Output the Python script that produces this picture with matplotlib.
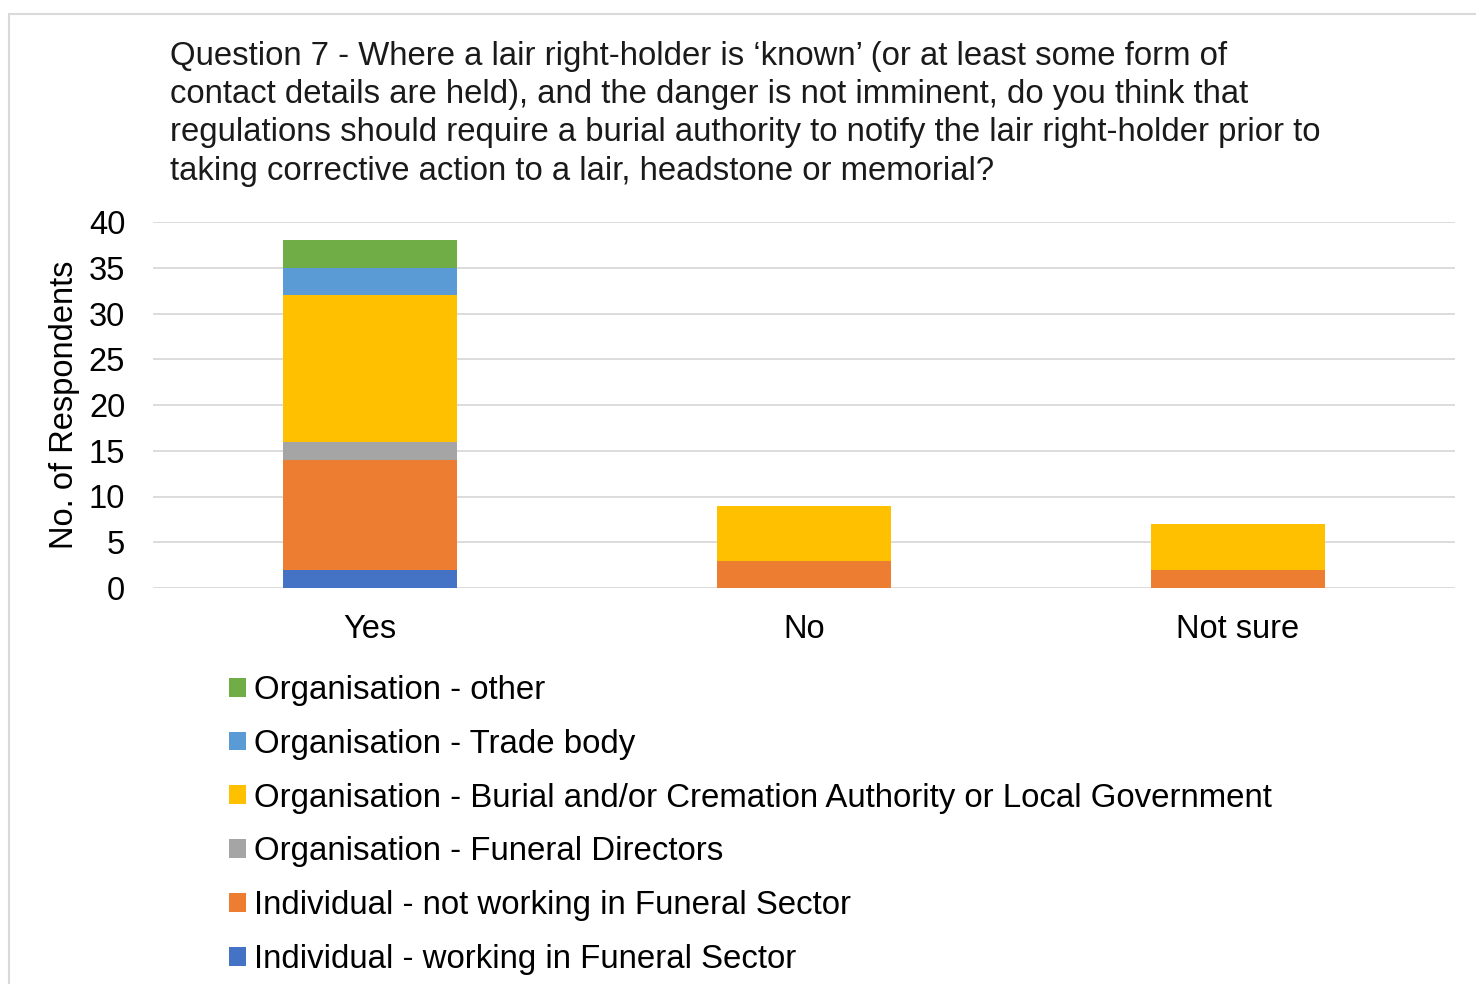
import matplotlib.pyplot as plt
from matplotlib.patches import Rectangle, Patch
import numpy as np

plt.rcParams['font.family'] = ['Liberation Sans', 'DejaVu Sans']

answers = ['Yes', 'No', 'Not sure']
groups = ['Individual - working in Funeral Sector',
          'Individual - not working in Funeral Sector',
          'Organisation - Funeral Directors',
          'Organisation - Burial and/or Cremation Authority or Local Government',
          'Organisation - Trade body',
          'Organisation - other']
indiv_working = [2, 0, 0]
indiv_not_working = [12, 3, 2]
funeral_directors = [2, 0, 0]
burial_authority = [16, 6, 5]
trade_body = [3, 0, 0]
org_other = [3, 0, 0]
colors = ['#4472C4', '#ED7D31', '#A5A5A5', '#FFC000', '#5B9BD5', '#70AD47']

title = ("Question 7 - Where a lair right-holder is \u2018known\u2019 (or at least some form of\n"
         "contact details are held), and the danger is not imminent, do you think that\n"
         "regulations should require a burial authority to notify the lair right-holder prior to\n"
         "taking corrective action to a lair, headstone or memorial?")

W, H = 1476, 984
fig = plt.figure(figsize=(W / 100, H / 100), dpi=100)

# chart area border
fig.patches.append(Rectangle((9 / W, -0.1), 1.2, 1 - 14 / H + 0.1, transform=fig.transFigure,
                             fill=False, edgecolor='#D9D9D9', linewidth=1.5))

ax = fig.add_axes([153 / W, 1 - 588 / H, (1455 - 153) / W, (588 - 222) / H])

series = [indiv_working, indiv_not_working, funeral_directors,
          burial_authority, trade_body, org_other]
x = np.arange(len(answers))
bottom = np.zeros(len(answers))
for vals, col in zip(series, colors):
    ax.bar(x, vals, 0.4, bottom=bottom, color=col, zorder=3)
    bottom += np.array(vals)

ax.set_xlim(-0.5, 2.5)
ax.set_ylim(0, 40)
ax.set_yticks(range(0, 41, 5))
ax.set_xticks(x)
ax.set_xticklabels(answers)
ax.tick_params(axis='both', length=0, labelsize=23.5, colors='#000000')
ax.tick_params(axis='x', pad=18.5)
ax.tick_params(axis='y', pad=20)
ax.grid(axis='y', color='#D9D9D9', linewidth=1.3, zorder=0)
for s in ax.spines.values():
    s.set_visible(False)
ax.set_ylabel('No. of Respondents', fontsize=23.5)
ax.yaxis.set_label_coords(-(153 - 80) / (1455 - 153), 0.5)

fig.text(170 / W, 1 - 41 / H, title, fontsize=23.7, va='top', ha='left',
         linespacing=1.3, color='#1a1a1a')

handles = [Patch(facecolor=c, edgecolor='none') for c in colors][::-1]
fig.legend(handles, groups[::-1], loc='upper left',
           bbox_to_anchor=(229 / W, 1 - 675 / H), frameon=False,
           fontsize=23.8, handlelength=0.5, handleheight=0.5, handletextpad=0.27,
           labelspacing=0.69, borderaxespad=0, borderpad=0)

fig.savefig('out.png', dpi=100)
